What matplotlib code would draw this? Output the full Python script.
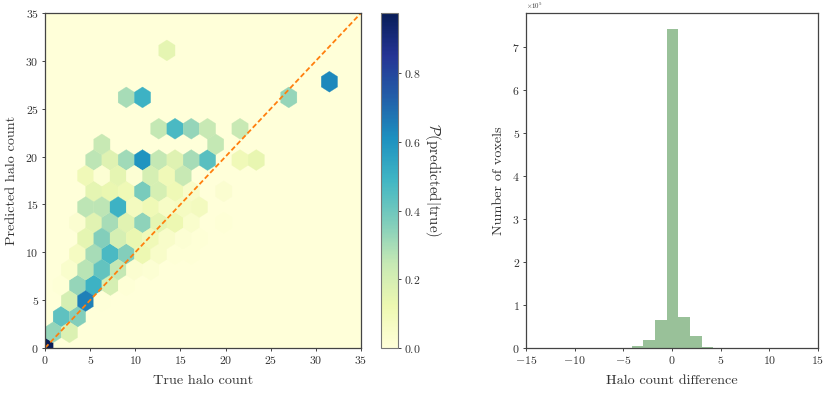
import matplotlib
matplotlib.use("Agg")
import matplotlib.pyplot as plt
import numpy as np

plt.rcParams['font.family'] = ['cmr10', 'DejaVu Sans']
plt.rcParams['mathtext.fontset'] = 'cm'
plt.rcParams['axes.formatter.use_mathtext'] = True
plt.rcParams['axes.unicode_minus'] = False

# ---- hexbin panel: one entry per occupied cell ----
true_count = [
    0.0,
    0.9, 2.7,
    1.8, 3.6,
    2.7, 4.5, 6.3,
    1.8, 3.6, 5.4, 7.2, 9.0,
    2.7, 4.5, 6.3, 8.1, 9.9, 11.7,
    3.6, 5.4, 7.2, 9.0, 10.8, 12.6, 14.4, 16.2,
    4.5, 6.3, 8.1, 9.9, 11.7, 13.5, 15.3, 17.1,
    3.6, 5.4, 7.2, 9.0, 10.8, 12.6, 14.4, 16.2, 19.8,
    4.5, 6.3, 8.1, 9.9, 11.7, 13.5, 15.3, 17.1,
    5.4, 7.2, 9.0, 10.8, 12.6, 14.4, 16.2, 19.8,
    4.5, 6.3, 8.1, 9.9, 11.7, 13.5, 15.3,
    5.4, 7.2, 9.0, 10.8, 12.6, 14.4, 16.2, 18.0, 21.6, 23.4,
    6.3, 18.9,
    12.6, 14.4, 16.2, 18.0, 21.6,
    9.0, 10.8, 27.0,
    31.5,
    13.5,
]
predicted_count = [
    0.0,
    1.64, 1.64,
    3.27, 3.27,
    4.91, 4.91, 4.91,
    6.55, 6.55, 6.55, 6.55, 6.55,
    8.18, 8.18, 8.18, 8.18, 8.18, 8.18,
    9.82, 9.82, 9.82, 9.82, 9.82, 9.82, 9.82, 9.82,
    11.45, 11.45, 11.45, 11.45, 11.45, 11.45, 11.45, 11.45,
    13.09, 13.09, 13.09, 13.09, 13.09, 13.09, 13.09, 13.09, 13.09,
    14.73, 14.73, 14.73, 14.73, 14.73, 14.73, 14.73, 14.73,
    16.36, 16.36, 16.36, 16.36, 16.36, 16.36, 16.36, 16.36,
    18.0, 18.0, 18.0, 18.0, 18.0, 18.0, 18.0,
    19.64, 19.64, 19.64, 19.64, 19.64, 19.64, 19.64, 19.64, 19.64, 19.64,
    21.27, 21.27,
    22.91, 22.91, 22.91, 22.91, 22.91,
    26.18, 26.18, 26.18,
    27.82,
    31.09,
]
probability = [
    0.975,
    0.33, 0.18,
    0.43, 0.36,
    0.20, 0.65, 0.005,
    0.01, 0.33, 0.50, 0.20, 0.01,
    0.04, 0.27, 0.42, 0.25, 0.03, 0.02,
    0.07, 0.30, 0.47, 0.36, 0.12, 0.05, 0.01, 0.01,
    0.15, 0.36, 0.20, 0.13, 0.10, 0.05, 0.02, 0.01,
    0.03, 0.16, 0.30, 0.16, 0.34, 0.15, 0.12, 0.04, 0.01,
    0.26, 0.26, 0.50, 0.08, 0.11, 0.06, 0.07, 0.08,
    0.15, 0.13, 0.11, 0.38, 0.20, 0.11, 0.05, 0.03,
    0.10, 0.02, 0.15, 0.02, 0.20, 0.10, 0.24,
    0.26, 0.17, 0.31, 0.60, 0.25, 0.17, 0.30, 0.44, 0.10, 0.14,
    0.24, 0.25,
    0.25, 0.47, 0.33, 0.24, 0.24,
    0.30, 0.50, 0.33,
    0.63,
    0.15,
]
hex_ticks = [0, 5, 10, 15, 20, 25, 30, 35]
cbar_ticks = [0.0, 0.2, 0.4, 0.6, 0.8]

# ---- histogram panel ----
diff_left_edges = [-4.15, -2.95, -1.75, -0.55, 0.65, 1.85, 3.05, 4.25]
diff_counts = [0.045e5, 0.19e5, 0.65e5, 7.42e5, 0.72e5, 0.27e5, 0.02e5, 0.003e5]
diff_ticks = [-15, -10, -5, 0, 5, 10, 15]

W, H = 830, 393
fig = plt.figure(figsize=(W / 100, H / 100), dpi=100)

def rect(x0, x1, ytop, ybot):
    return [x0 / W, 1 - ybot / H, (x1 - x0) / W, (ybot - ytop) / H]

TEXT = '#333333'
EDGE = '#444444'
LABEL = 10.2

ax = fig.add_axes(rect(45, 361, 13, 348))
cmap = plt.get_cmap('YlGnBu')
ax.set_facecolor(cmap(0.0))
hb = ax.hexbin(true_count, predicted_count, C=probability, gridsize=20,
               extent=(0, 36, 0, 36), reduce_C_function=np.mean,
               cmap=cmap, vmin=0, vmax=0.975, linewidths=0.2)
ax.plot([0, 35], [0, 35], color='#ff7f0e', ls='--', lw=1.3, dashes=(2.8, 1.5))
ax.set_xlim(0, 35)
ax.set_ylim(0, 35)
ax.set_xticks(hex_ticks)
ax.set_yticks(hex_ticks)
ax.set_xlabel('True halo count', fontsize=LABEL, color=TEXT, labelpad=6)
ax.set_ylabel('Predicted halo count', fontsize=LABEL, color=TEXT, labelpad=5)

cax = fig.add_axes(rect(381, 398, 13, 348))
cb = fig.colorbar(hb, cax=cax, ticks=cbar_ticks)
cb.set_label(r'$\mathcal{P}(\mathrm{predicted}|\mathrm{true})$', rotation=270,
             fontsize=10.8, color=TEXT, labelpad=16)
cb.outline.set_edgecolor('#777777')
cb.outline.set_linewidth(0.8)

ax2 = fig.add_axes(rect(526, 818, 13, 348))
ax2.bar(diff_left_edges, diff_counts, width=1.2, align='edge',
        color='darkgreen', alpha=0.4, linewidth=0)
ax2.set_xlim(-15, 15)
ax2.set_ylim(0, 7.79e5)
ax2.set_xticks(diff_ticks)
ax2.ticklabel_format(axis='y', style='sci', scilimits=(5, 5), useMathText=True)
ax2.yaxis.get_offset_text().set_fontsize(5)
ax2.yaxis.get_offset_text().set_color(TEXT)
ax2.yaxis.get_offset_text().set_position((0, 0.985))
ax2.set_xlabel('Halo count difference', fontsize=LABEL, color=TEXT, labelpad=6)
ax2.set_ylabel('Number of voxels', fontsize=LABEL, color=TEXT, labelpad=5)

for a in (ax, ax2, cax):
    a.tick_params(labelsize=8.5, length=2.5, width=0.7, pad=2,
                  colors=EDGE, labelcolor=TEXT)
for a in (ax, ax2):
    for s in a.spines.values():
        s.set_linewidth(0.9)
        s.set_edgecolor(EDGE)

fig.savefig('out.png', dpi=100)
